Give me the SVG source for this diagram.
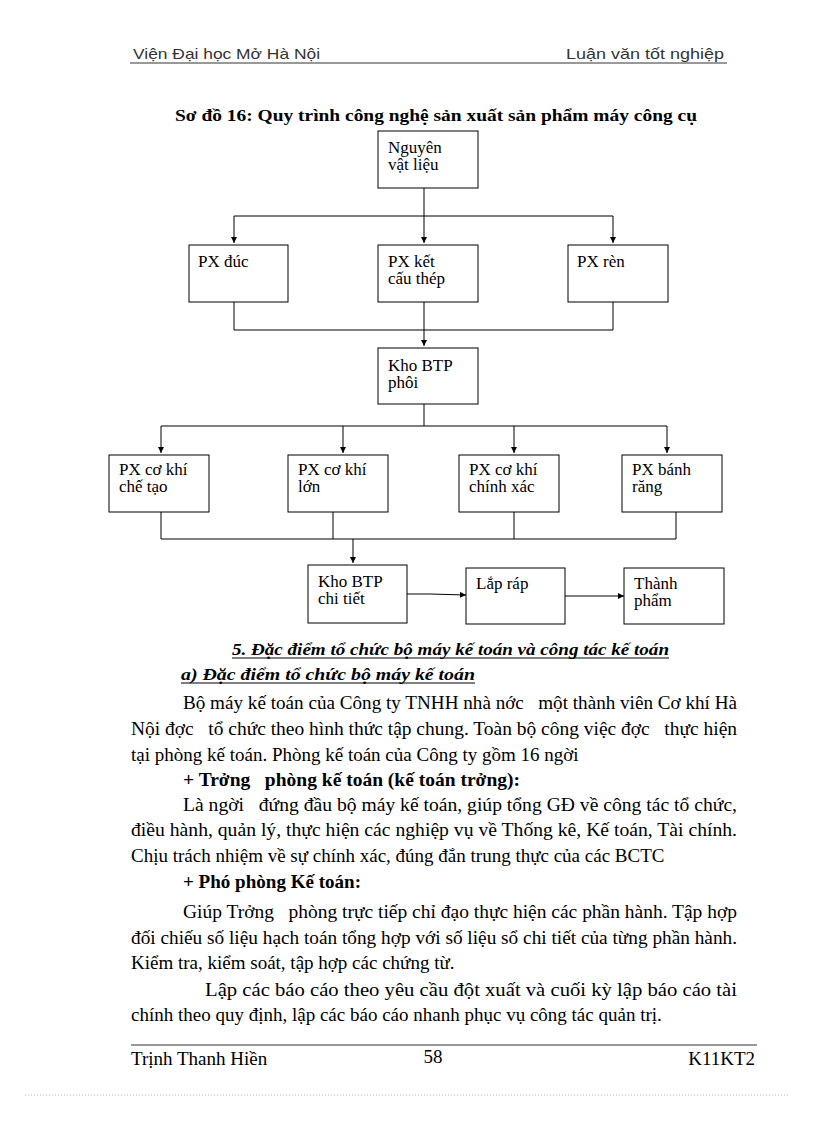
<svg xmlns="http://www.w3.org/2000/svg" width="816" height="1123" viewBox="0 0 816 1123">
<style>
text{font-family:"Liberation Serif","Times New Roman",serif;fill:#000;white-space:pre}
.hdr{font-family:"Liberation Sans","DejaVu Sans",sans-serif;font-size:15px;fill:#333}
.box rect{fill:#fff;stroke:#000;stroke-width:1}
.box text{font-size:17px}
.con path{fill:none;stroke:#000;stroke-width:1}
.body{font-size:19px}
.bold{font-weight:bold}
.h{font-weight:bold;font-style:italic;font-size:16px}
</style>
<defs>
<marker id="ah" viewBox="0 0 8 8" refX="8" refY="4" markerWidth="7" markerHeight="6" markerUnits="userSpaceOnUse" orient="auto">
<path d="M0,0 L8,4 L0,8 z" fill="#000"/>
</marker>
</defs>
<rect width="816" height="1123" fill="#fff"/>
<!-- header -->
<text class="hdr" x="133" y="59" textLength="187" lengthAdjust="spacingAndGlyphs">Viện Đại học Mở Hà Nội</text>
<text class="hdr" x="566" y="59" textLength="158" lengthAdjust="spacingAndGlyphs">Luận văn tốt nghiệp</text>
<line x1="130" y1="63" x2="727" y2="63" stroke="#333" stroke-width="1"/>
<!-- title -->
<text class="bold" x="175" y="121" font-size="17" textLength="522" lengthAdjust="spacingAndGlyphs">Sơ đồ 16: Quy trình công nghệ sản xuất sản phẩm máy công cụ</text>
<!-- connectors -->
<g class="con" id="connectors">
<path d="M424,188 V243" marker-end="url(#ah)"/>
<path d="M234,216 H613"/>
<path d="M234,216 V243" marker-end="url(#ah)"/>
<path d="M613,216 V243" marker-end="url(#ah)"/>
<path d="M234,302 V330 H613 V302"/>
<path d="M424,302 V346" marker-end="url(#ah)"/>
<path d="M424,404 V426"/>
<path d="M161,426 H667"/>
<path d="M161,426 V453" marker-end="url(#ah)"/>
<path d="M343,426 V453" marker-end="url(#ah)"/>
<path d="M514,426 V453" marker-end="url(#ah)"/>
<path d="M667,426 V453" marker-end="url(#ah)"/>
<path d="M161,512 V539 H676 V512"/>
<path d="M333,512 V539"/>
<path d="M514,512 V539"/>
<path d="M353,539 V563" marker-end="url(#ah)"/>
<path d="M407,594 H430 L466,595" marker-end="url(#ah)"/>
<path d="M565,596 H624" marker-end="url(#ah)"/>
</g>
<!-- nodes -->
<g class="box" id="n-nguyen"><rect x="378" y="131" width="100" height="57"/><text x="388" y="153">Nguyên</text><text x="388" y="170">vật liệu</text></g>
<g class="box" id="n-pxduc"><rect x="189" y="245" width="99" height="57"/><text x="198" y="267">PX đúc</text></g>
<g class="box" id="n-pxket"><rect x="378" y="245" width="100" height="57"/><text x="388" y="267">PX kết</text><text x="388" y="284">cấu thép</text></g>
<g class="box" id="n-pxren"><rect x="568" y="245" width="100" height="57"/><text x="577" y="267">PX rèn</text></g>
<g class="box" id="n-khophoi"><rect x="378" y="348" width="100" height="56"/><text x="388" y="371">Kho BTP</text><text x="388" y="388">phôi</text></g>
<g class="box" id="n-chetao"><rect x="109" y="455" width="100" height="57"/><text x="119" y="475">PX cơ khí</text><text x="119" y="492">chế tạo</text></g>
<g class="box" id="n-lon"><rect x="288" y="455" width="100" height="57"/><text x="298" y="475">PX cơ khí</text><text x="298" y="492">lớn</text></g>
<g class="box" id="n-chinhxac"><rect x="459" y="455" width="100" height="57"/><text x="469" y="475">PX cơ khí</text><text x="469" y="492">chính xác</text></g>
<g class="box" id="n-banhrang"><rect x="622" y="455" width="100" height="57"/><text x="632" y="475">PX bánh</text><text x="632" y="492">răng</text></g>
<g class="box" id="n-khochitiet"><rect x="308" y="565" width="99" height="58"/><text x="318" y="587">Kho BTP</text><text x="318" y="604">chi tiết</text></g>
<g class="box" id="n-laprap"><rect x="466" y="568" width="99" height="56"/><text x="476" y="589">Lắp ráp</text></g>
<g class="box" id="n-thanhpham"><rect x="624" y="568" width="100" height="56"/><text x="634" y="589">Thành</text><text x="634" y="606">phẩm</text></g>
<!-- headings -->
<text class="h" x="232" y="655" textLength="437" lengthAdjust="spacingAndGlyphs">5. Đặc điểm tổ chức bộ máy kế toán và công tác kế toán</text>
<line x1="232" y1="658" x2="669" y2="658" stroke="#000" stroke-width="1.2"/>
<text class="h" x="181" y="680" textLength="294" lengthAdjust="spacingAndGlyphs">a) Đặc điểm tổ chức bộ máy kế toán</text>
<line x1="181" y1="683" x2="475" y2="683" stroke="#000" stroke-width="1.2"/>
<!-- body -->
<text class="body" x="183" y="709" textLength="554" lengthAdjust="spacingAndGlyphs">Bộ máy kế toán của Công ty TNHH nhà nớc   một thành viên Cơ khí Hà</text>
<text class="body" x="131" y="735" textLength="606" lengthAdjust="spacingAndGlyphs">Nội đợc   tổ chức theo hình thức tập chung. Toàn bộ công việc đợc   thực hiện</text>
<text class="body" x="131" y="761">tại phòng kế toán. Phòng kế toán của Công ty gồm 16 ngời</text>
<text class="body bold" x="183" y="786" textLength="337" lengthAdjust="spacingAndGlyphs">+ Trởng   phòng kế toán (kế toán trởng):</text>
<text class="body" x="183" y="811" textLength="554" lengthAdjust="spacingAndGlyphs">Là ngời   đứng đầu bộ máy kế toán, giúp tổng GĐ về công tác tổ chức,</text>
<text class="body" x="131" y="836" textLength="606" lengthAdjust="spacingAndGlyphs">điều hành, quản lý, thực hiện các nghiệp vụ về Thống kê, Kế toán, Tài chính.</text>
<text class="body" x="131" y="862">Chịu trách nhiệm về sự chính xác, đúng đắn trung thực của các BCTC</text>
<text class="body bold" x="183" y="888" textLength="178" lengthAdjust="spacingAndGlyphs">+ Phó phòng Kế toán:</text>
<text class="body" x="183" y="918" textLength="554" lengthAdjust="spacingAndGlyphs">Giúp Trởng   phòng trực tiếp chỉ đạo thực hiện các phần hành. Tập hợp</text>
<text class="body" x="131" y="944" textLength="606" lengthAdjust="spacingAndGlyphs">đối chiếu số liệu hạch toán tổng hợp với số liệu sổ chi tiết của từng phần hành.</text>
<text class="body" x="131" y="969">Kiểm tra, kiểm soát, tập hợp các chứng từ.</text>
<text class="body" x="205" y="996" textLength="532" lengthAdjust="spacingAndGlyphs">Lập các báo cáo theo yêu cầu đột xuất và cuối kỳ lập báo cáo tài</text>
<text class="body" x="131" y="1021">chính theo quy định, lập các báo cáo nhanh phục vụ công tác quản trị.</text>
<!-- footer -->
<line x1="131" y1="1045" x2="757" y2="1045" stroke="#333" stroke-width="1"/>
<text class="body" x="131" y="1065">Trịnh Thanh Hiền</text>
<text class="body" x="433" y="1063" text-anchor="middle">58</text>
<text class="body" x="755" y="1065" text-anchor="end">K11KT2</text>
<line x1="25" y1="1095" x2="790" y2="1095" stroke="#bbb" stroke-width="1" stroke-dasharray="1,2"/>
</svg>
